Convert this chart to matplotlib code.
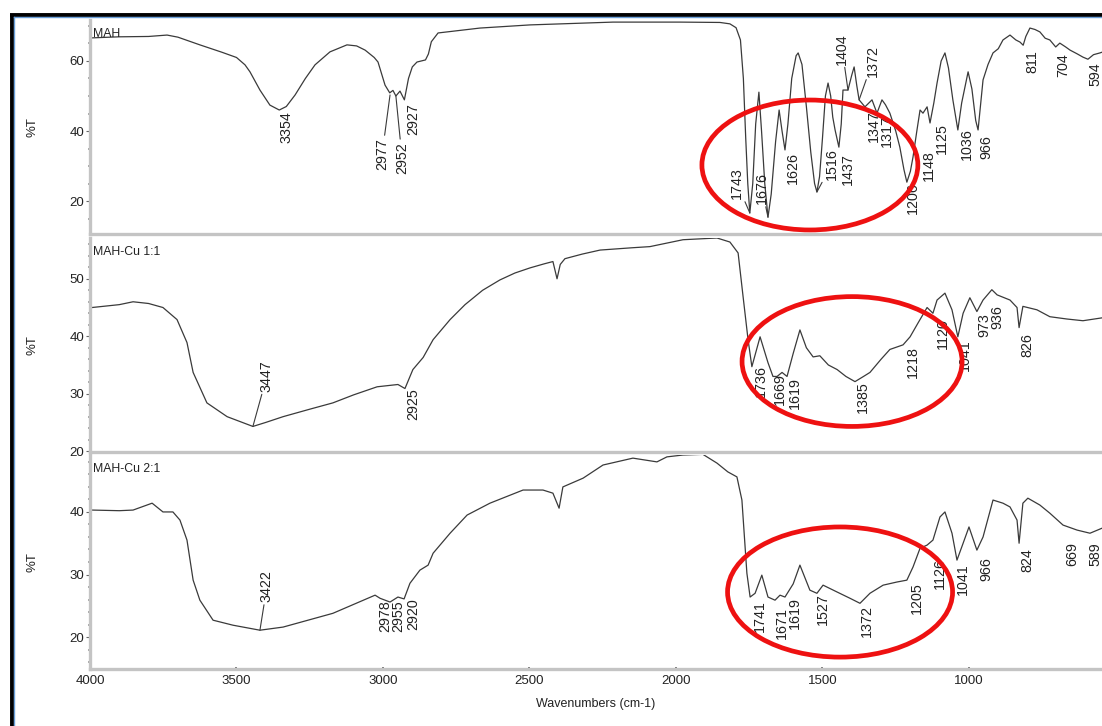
import matplotlib
matplotlib.use("Agg")
import matplotlib.pyplot as plt
from matplotlib.patches import Ellipse
from matplotlib.lines import Line2D
from matplotlib.ticker import MultipleLocator

plt.rcParams['font.family'] = ['Liberation Sans', 'DejaVu Sans']

# ---------------- data ----------------
mah_wn = [3993, 3900, 3800, 3737, 3700, 3625, 3550, 3500, 3471, 3454, 3420, 3386, 3354, 3330,
          3300, 3265, 3232, 3181, 3123, 3090, 3061, 3030, 3017, 2993, 2977, 2966, 2956, 2942,
          2927, 2913, 2900, 2884, 2855, 2845, 2835, 2812, 2782, 2669, 2498, 2215, 1986, 1850,
          1816, 1795, 1780, 1770, 1762, 1755, 1748, 1738, 1728, 1717, 1708, 1697, 1686, 1675,
          1660, 1648, 1638, 1628, 1618, 1605, 1590, 1583, 1570, 1555, 1540, 1527, 1519, 1510,
          1500, 1490, 1481, 1472, 1465, 1457, 1444, 1436, 1430, 1413, 1400, 1392, 1383, 1375,
          1355, 1331, 1314, 1297, 1285, 1270, 1250, 1236, 1222, 1212, 1200, 1191, 1178, 1167,
          1157, 1143, 1133, 1120, 1109, 1095, 1082, 1070, 1055, 1038, 1025, 1003, 990, 977,
          969, 960, 952, 935, 918, 900, 884, 860, 840, 826, 815, 806, 792, 775, 758, 740, 724,
          704, 690, 670, 655, 630, 611, 594, 575, 553, 546]
mah_t = [66.6, 66.9, 67.0, 67.4, 66.8, 64.6, 62.5, 61.0, 58.9, 56.9, 51.7, 47.4, 46.0, 47.0,
         50.3, 55.0, 58.9, 62.6, 64.6, 64.3, 63.1, 61.0, 59.7, 53.1, 50.9, 51.6, 50.0, 51.4,
         48.9, 55.0, 58.3, 59.7, 60.3, 62.0, 65.5, 68.0, 68.3, 69.4, 70.3, 71.1, 71.1, 71.0,
         70.6, 69.5, 66.0, 55.0, 38.0, 25.0, 16.6, 25.0, 42.0, 51.1, 40.0, 25.0, 15.4, 22.0,
         37.0, 46.0, 40.0, 34.6, 42.0, 55.0, 61.5, 62.3, 59.0, 47.0, 34.0, 25.0, 22.6, 27.0,
         38.0, 50.0, 53.7, 50.0, 44.0, 40.3, 35.4, 42.0, 51.7, 51.7, 56.0, 58.3, 53.0, 48.9,
         46.9, 48.9, 45.1, 48.9, 47.5, 45.1, 40.0, 35.4, 29.0, 25.4, 28.5, 32.6, 40.0, 46.0,
         45.1, 46.9, 42.3, 48.0, 53.7, 60.0, 62.3, 58.0, 48.9, 40.3, 48.0, 56.9, 52.0, 43.0,
         40.3, 48.0, 54.6, 59.0, 62.3, 63.5, 66.0, 67.4, 66.0, 65.4, 64.5, 67.0, 69.4, 69.0,
         68.3, 66.5, 66.0, 64.0, 65.1, 64.0, 63.1, 62.0, 61.1, 60.5, 61.8, 62.3, 62.5]

cu11_wn = [3993, 3900, 3853, 3800, 3751, 3703, 3669, 3648, 3601, 3532, 3444, 3400, 3341, 3250,
           3171, 3100, 3020, 2949, 2925, 2898, 2863, 2829, 2771, 2720, 2660, 2601, 2550, 2498,
           2450, 2420, 2406, 2395, 2379, 2320, 2259, 2150, 2089, 1976, 1860, 1816, 1788, 1771,
           1754, 1741, 1713, 1686, 1669, 1655, 1638, 1621, 1600, 1577, 1555, 1532, 1509, 1480,
           1450, 1420, 1389, 1360, 1338, 1300, 1270, 1225, 1201, 1174, 1143, 1123, 1109, 1082,
           1058, 1038, 1020, 997, 973, 952, 922, 904, 860, 836, 829, 816, 768, 724, 666, 611,
           546]
cu11_t = [45.0, 45.5, 46.0, 45.7, 45.0, 42.9, 38.9, 33.7, 28.4, 26.0, 24.3, 25.0, 26.0, 27.3,
          28.4, 29.8, 31.2, 31.6, 30.9, 34.2, 36.3, 39.4, 42.9, 45.5, 48.0, 49.8, 51.0, 51.9,
          52.6, 53.0, 50.0, 52.5, 53.5, 54.3, 55.0, 55.4, 55.6, 56.8, 57.1, 56.4, 54.5, 46.9,
          39.4, 34.7, 39.9, 35.4, 33.0, 33.0, 33.7, 33.0, 37.0, 41.1, 38.0, 36.4, 36.6, 35.0,
          34.2, 33.0, 32.1, 33.0, 33.7, 36.0, 37.7, 38.5, 39.9, 42.3, 45.0, 44.0, 46.3, 47.5,
          44.6, 39.9, 44.0, 46.7, 44.3, 46.3, 48.1, 47.2, 46.3, 45.0, 41.5, 45.2, 44.6, 43.4,
          43.0, 42.7, 43.2]

cu21_wn = [3993, 3900, 3853, 3788, 3751, 3717, 3693, 3669, 3648, 3625, 3580, 3512, 3420, 3341,
           3171, 3027, 3010, 2976, 2949, 2928, 2908, 2874, 2846, 2829, 2771, 2713, 2635, 2522,
           2454, 2420, 2399, 2386, 2317, 2249, 2147, 2065, 2031, 1976, 1908, 1860, 1823, 1792,
           1775, 1758, 1747, 1730, 1707, 1686, 1662, 1645, 1628, 1600, 1577, 1543, 1519, 1498,
           1450, 1406, 1372, 1338, 1293, 1246, 1212, 1191, 1167, 1143, 1123, 1099, 1082, 1058,
           1041, 1020, 1000, 973, 952, 918, 884, 860, 836, 829, 816, 799, 758, 724, 679, 631,
           587, 546]
cu21_t = [40.3, 40.2, 40.3, 41.4, 40.0, 40.0, 38.7, 35.5, 29.1, 25.9, 22.7, 21.9, 21.1, 21.6,
          23.8, 26.7, 26.2, 25.6, 26.4, 26.1, 28.6, 30.7, 31.5, 33.4, 36.6, 39.5, 41.4, 43.5,
          43.5, 43.0, 40.6, 44.0, 45.4, 47.5, 48.6, 48.0, 48.8, 49.1, 49.2, 47.8, 46.4, 45.6,
          41.9, 30.2, 26.4, 27.0, 29.9, 26.4, 25.9, 26.7, 26.4, 28.5, 31.5, 27.5, 27.0, 28.3,
          27.2, 26.2, 25.4, 27.0, 28.3, 28.8, 29.1, 31.2, 34.2, 34.7, 35.5, 39.2, 40.0, 36.6,
          32.3, 35.0, 37.6, 33.9, 36.0, 41.9, 41.4, 40.8, 38.7, 35.0, 41.4, 42.2, 41.1, 39.8,
          37.9, 37.1, 36.6, 37.4]

titles = ["MAH", "MAH-Cu 1:1", "MAH-Cu 2:1"]

# peak labels: text, text x (wavenumber), text top (%T), leader target or None
mah_labels = [("3354", 3328, 45.6, None), ("2977", 3003, 38.0, (2976, 50.3)),
              ("2952", 2935, 36.9, (2956, 50.0)), ("2927", 2898, 48.0, None),
              ("1743", 1792, 29.7, (1748, 16.6)), ("1676", 1707, 28.3, (1686, 15.4)),
              ("1626", 1601, 34.0, None), ("1516", 1468, 35.1, (1519, 22.6)),
              ("1437", 1413, 33.7, None), ("1404", 1433, 68.0, (1413, 51.7)),
              ("1372", 1328, 64.6, (1375, 48.9)), ("1347", 1324, 46.0, None),
              ("1317", 1280, 44.6, None), ("1206", 1191, 25.4, None),
              ("1148", 1137, 34.6, None), ("1125", 1092, 42.3, None),
              ("1036", 1007, 40.9, None), ("966", 939, 38.9, None),
              ("811", 785, 63.1, None), ("704", 679, 62.3, None), ("594", 570, 59.7, None)]
cu11_labels = [("3447", 3396, 35.9, (3444, 24.3)), ("2925", 2897, 31.0, None),
               ("1736", 1710, 35.0, None), ("1669", 1645, 33.6, None),
               ("1619", 1594, 32.8, None), ("1385", 1362, 32.1, None),
               ("1218", 1191, 38.2, None), ("1120", 1089, 43.2, None),
               ("1041", 1014, 39.4, None), ("973", 947, 44.1, None),
               ("936", 902, 45.5, None), ("826", 799, 40.6, None)]
cu21_labels = [("3422", 3396, 30.7, (3420, 21.1)), ("2978", 2993, 25.9, None),
               ("2955", 2948, 25.9, None), ("2920", 2897, 26.2, None),
               ("1741", 1713, 25.9, None), ("1671", 1638, 24.8, None),
               ("1619", 1594, 26.4, None), ("1527", 1498, 27.0, None),
               ("1372", 1348, 25.1, None), ("1205", 1177, 28.8, None),
               ("1126", 1099, 32.6, None), ("1041", 1020, 31.8, None),
               ("966", 939, 32.8, None), ("824", 799, 34.2, None),
               ("669", 648, 35.2, None), ("589", 568, 35.2, None)]

# red ellipses: centre wn, centre %T, width (cm-1), height (%T)
ellipses = [(1543, 30.3, 737, 37.1), (1399, 35.6, 751, 22.6), (1440, 27.2, 768, 20.8)]

ylims = [(10.6, 71.7), (19.85, 57.1), (14.9, 49.1)]
yticks = [[20, 40, 60], [20, 30, 40, 50], [20, 30, 40]]
yminor = [5, 2, 2]
xticks = [4000, 3500, 3000, 2500, 2000, 1500, 1000]
xlim = (4000, 546)

# ---------------- figure ----------------
W, H = 1102, 726
fig = plt.figure(figsize=(W / 100, H / 100), dpi=100)
fig.patch.set_facecolor('white')

left = 90 / W
width = 1 - left
panels_px = [(20, 234), (238, 452), (455, 669)]
series = [(mah_wn, mah_t, mah_labels), (cu11_wn, cu11_t, cu11_labels),
          (cu21_wn, cu21_t, cu21_labels)]

spine_col = '#c4c4c4'
line_col = '#3a3a3a'
txt_col = '#222222'

for i, ((top, bot), (wn, t, labels)) in enumerate(zip(panels_px, series)):
    ax = fig.add_axes([left, (H - bot) / H, width, (bot - top) / H])
    ax.plot(wn, t, color=line_col, lw=0.9)
    ax.set_xlim(*xlim)
    ax.set_ylim(*ylims[i])
    for s in ['top', 'right']:
        ax.spines[s].set_visible(False)
    for s in ['left', 'bottom']:
        ax.spines[s].set_color(spine_col)
        ax.spines[s].set_linewidth(2.4)
    ax.set_yticks(yticks[i])
    ax.yaxis.set_minor_locator(MultipleLocator(yminor[i]))
    ax.tick_params(axis='y', which='major', length=3, width=0.8, color='#666666',
                   labelsize=9.5, pad=1, labelcolor=txt_col)
    ax.tick_params(axis='y', which='minor', length=1.2, width=1.2, color='#9a9a9a')
    ax.set_xticks(xticks)
    ax.xaxis.set_minor_locator(MultipleLocator(100))
    if i < 2:
        ax.tick_params(axis='x', which='both', length=0, labelbottom=False)
    else:
        ax.tick_params(axis='x', which='major', length=2.5, width=1.4, color='#777777',
                       labelsize=9.5, pad=3, labelcolor=txt_col, direction='inout')
        ax.tick_params(axis='x', which='minor', length=1.5, width=1.4, color='#777777',
                       direction='inout')
        ax.set_xticklabels([str(v) for v in xticks])
        ax.set_xlabel("Wavenumbers (cm-1)", fontsize=9, color=txt_col, labelpad=8)
    ax.set_ylabel("%T", fontsize=9.5, color=txt_col, labelpad=0)
    ax.yaxis.set_label_coords(-0.051, 0.5)
    ax.text(0.003, 1 - 8 / (bot - top), titles[i], transform=ax.transAxes,
            fontsize=8.8, va='top', ha='left', color=txt_col)

    for text, tx, ty, leader in labels:
        if leader is None:
            ax.text(tx, ty, text, rotation=90, ha='center', va='top', fontsize=10.3,
                    color=txt_col)
        else:
            ax.annotate(text, xy=leader, xytext=(tx, ty), rotation=90, ha='center',
                        va='top', fontsize=10.3, color=txt_col,
                        arrowprops=dict(arrowstyle='-', color=line_col, lw=0.8,
                                        shrinkA=0, shrinkB=0))

    cx, cy, ew, eh = ellipses[i]
    ax.add_patch(Ellipse((cx, cy), ew, eh, fill=False, edgecolor='#ee1111', lw=3.4,
                         clip_on=False, zorder=5))

# outer frame (black with thin blue inner line)
fig.add_artist(Line2D([11.5 / W, 11.5 / W], [0, 1 - 14.5 / H], transform=fig.transFigure,
                      color='black', lw=2.8, solid_capstyle='butt'))
fig.add_artist(Line2D([10 / W, 1], [1 - 14.5 / H, 1 - 14.5 / H], transform=fig.transFigure,
                      color='black', lw=2.8, solid_capstyle='butt'))
fig.add_artist(Line2D([14.3 / W, 14.3 / W], [0, 1 - 17 / H], transform=fig.transFigure,
                      color='#6a9fd8', lw=1.0))
fig.add_artist(Line2D([14.3 / W, 1], [1 - 17 / H, 1 - 17 / H], transform=fig.transFigure,
                      color='#6a9fd8', lw=1.0))

fig.savefig("out.png", dpi=100, facecolor='white')
